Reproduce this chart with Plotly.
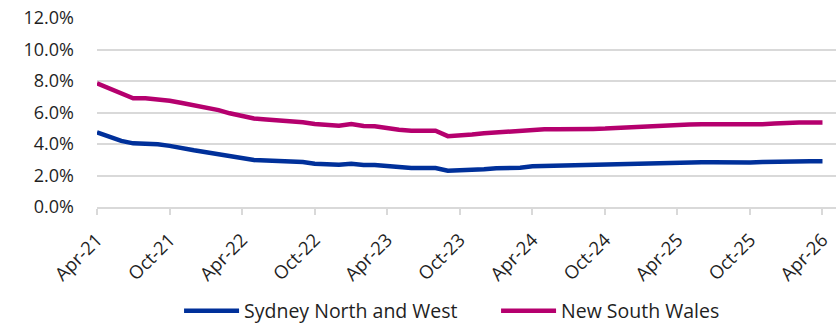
import pandas as pd
import plotly.graph_objects as go

# Monthly series, Apr-21 to Apr-26 (percent)
months = pd.date_range("2021-04-01", periods=61, freq="MS")

sydney_nw = [
    4.74, 4.45, 4.20, 4.04, 4.04, 3.98, 3.88, 3.72, 3.60, 3.48,
    3.35, 3.20, 3.10, 2.98, 2.95, 2.92, 2.90, 2.85, 2.75, 2.70,
    2.69, 2.75, 2.67, 2.67, 2.60, 2.54, 2.48, 2.48, 2.48, 2.30,
    2.32, 2.36, 2.40, 2.46, 2.46, 2.50, 2.58, 2.60, 2.62, 2.63,
    2.65, 2.66, 2.68, 2.70, 2.74, 2.79, 2.80, 2.80, 2.81, 2.83,
    2.84, 2.84, 2.83, 2.79, 2.82, 2.85, 2.88, 2.90, 2.90, 2.90,
    2.90,
]

nsw = [
    7.85, 7.55, 7.20, 6.90, 6.90, 6.85, 6.75, 6.60, 6.45, 6.35,
    6.15, 5.95, 5.80, 5.62, 5.55, 5.50, 5.47, 5.38, 5.27, 5.20,
    5.16, 5.27, 5.14, 5.12, 5.00, 4.90, 4.84, 4.84, 4.84, 4.50,
    4.53, 4.60, 4.68, 4.74, 4.74, 4.85, 4.92, 4.93, 4.93, 4.92,
    4.95, 4.96, 4.98, 5.02, 5.08, 5.15, 5.18, 5.19, 5.20, 5.24,
    5.26, 5.25, 5.24, 5.22, 5.23, 5.26, 5.30, 5.37, 5.37, 5.37,
    5.37,
]

series_names = ["Sydney North and West", "New South Wales"]
series_colors = ["#00309A", "#B5006E"]

font_family = "'Open Sans', 'Noto Sans', sans-serif"
text_color = "#1f1f1f"

fig = go.Figure()
for name, vals, color in zip(series_names, [sydney_nw, nsw], series_colors):
    fig.add_trace(go.Scatter(
        x=months, y=vals, name=name, mode="lines",
        line=dict(color=color, width=4.5),
    ))

fig.update_layout(
    width=836, height=324,
    margin=dict(l=97, r=0, t=18, b=117, autoexpand=False),
    paper_bgcolor="white", plot_bgcolor="white",
    font=dict(family=font_family, size=17, color=text_color),
    showlegend=True,
    legend=dict(
        orientation="h", x=0.54, xanchor="center", y=-0.55, yanchor="middle",
        font=dict(size=19.5, color=text_color), itemwidth=55,
        entrywidth=247, tracegroupgap=0,
    ),
)

fig.update_xaxes(
    range=["2021-04-01", "2026-05-05"],
    tickformat="%b-%y", dtick="M6", tick0="2021-04-01",
    tickangle=-45,
    ticklabeloverflow="allow",
    showgrid=False,
    showline=True, linecolor="#D9D9D9", linewidth=1.5,
    ticks="outside", ticklen=6, tickcolor="#D9D9D9", tickwidth=1.5,
    ticklabelstandoff=7,
    tickfont=dict(size=18.5, color=text_color),
)

fig.update_yaxes(
    range=[0, 12], dtick=2,
    tickformat=".1f", ticksuffix="%",
    showgrid=True, gridcolor="#D9D9D9", gridwidth=1.5,
    zeroline=False, showline=False,
    ticklabelstandoff=22,
    tickfont=dict(size=18, color=text_color),
)

fig.write_html("out.html")
